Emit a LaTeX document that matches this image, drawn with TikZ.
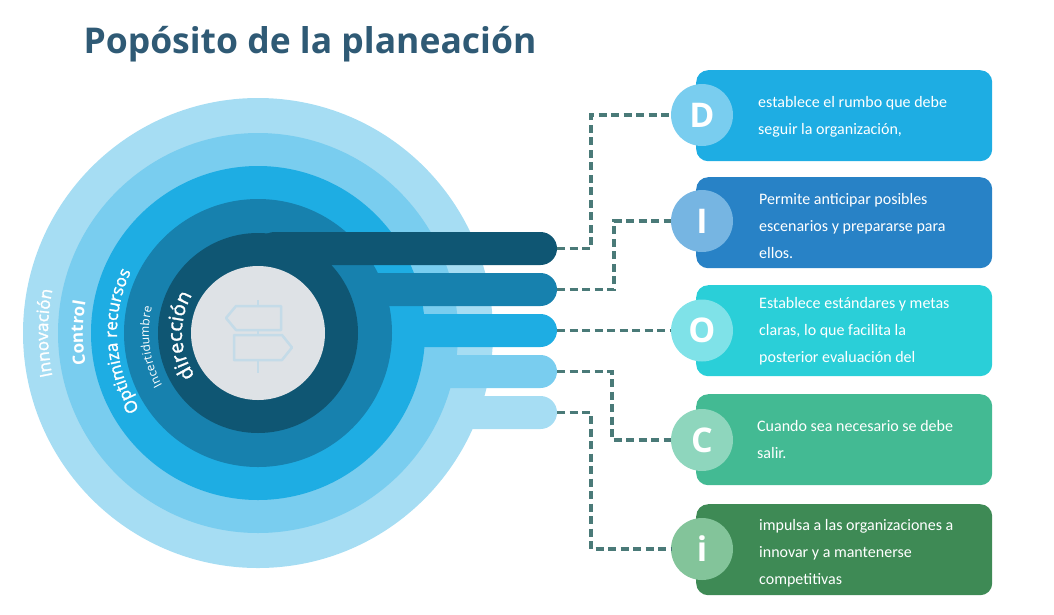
\documentclass[tikz,border=0pt]{standalone}
\usepackage{fontspec}
\setmainfont{Carlito}
\newfontfamily\osans{Open Sans}
\newfontfamily\osemi{Open Sans}[FakeBold=1.5]
\usetikzlibrary{decorations.text,calc}
\definecolor{rA}{HTML}{A6DDF3}
\definecolor{rB}{HTML}{79CDEF}
\definecolor{rC}{HTML}{1EADE3}
\definecolor{rD}{HTML}{1781AE}
\definecolor{rE}{HTML}{0F5673}
\definecolor{gcirc}{HTML}{DEE2E6}
\definecolor{icon}{HTML}{C4DBE8}
\definecolor{dashc}{HTML}{4A7A78}
\definecolor{titc}{HTML}{2F5A75}
\definecolor{bD}{HTML}{1EADE3}\definecolor{cD}{HTML}{79CDEF}
\definecolor{bI}{HTML}{2882C6}\definecolor{cI}{HTML}{76B5E2}
\definecolor{bO}{HTML}{2ACFD8}\definecolor{cO}{HTML}{7FE2E8}
\definecolor{bC}{HTML}{43BA93}\definecolor{cC}{HTML}{8ED6BD}
\definecolor{bi}{HTML}{3E8A55}\definecolor{ci}{HTML}{83C49A}
\begin{document}
\begin{tikzpicture}[x=1pt,y=1pt,
  conn/.style={draw=dashc,line width=3.4pt,dash pattern=on 8pt off 4.5pt},
  card/.style={rounded corners=12pt,minimum width=296pt,minimum height=91pt,inner sep=0pt},
  letter/.style={circle,minimum size=62pt,inner sep=0pt,text=white,font=\osans\bfseries\fontsize{34}{34}\selectfont},
  txt/.style={anchor=north west,align=left,text=white,font=\fontsize{16}{27}\selectfont,inner sep=0pt},
  curv/.style={decorate,decoration={text along path,text align=center,text color=white}}]
\useasboundingbox (0,0) rectangle (1054,-614);
\coordinate (c) at (258,-333);
% title
\node[anchor=west,text=titc,font=\osans\bfseries\fontsize{35.5}{35.5}\selectfont] (title) at (80,-44) {Popósito de la planeación};
% rings + bars
\foreach \r/\col/\yt in {235/rA/396,200/rB/355,167/rC/314,134/rD/273,100/rE/232}{
  \fill[\col] (c) circle (\r);
  \fill[\col,rounded corners=16.5pt] (258,-\yt) rectangle (557,-\yt-33);
}
\fill[gcirc] (c) circle (67);
% icon
\begin{scope}[draw=icon,line width=2.5pt,line join=round]
\draw (258,-300) -- (258,-306) (258,-330)--(258,-335) (258,-360)--(258,-373);
\draw (281,-306) -- (236,-306) -- (226,-318) -- (236,-330) -- (281,-330) -- cycle;
\draw (234,-335) -- (282,-335) -- (292,-347.5) -- (282,-360) -- (234,-360) -- cycle;
\end{scope}
% curved labels
\path[curv,decoration={text={|\osemi\fontsize{17}{17}\selectfont|Innovación}}] ($(c)+(215:210)$) arc (215:145:210);
\path[curv,decoration={text={|\osans\bfseries\fontsize{17}{17}\selectfont|Control}}] ($(c)+(215:175)$) arc (215:145:175);
\path[curv,decoration={text={|\osemi\fontsize{17}{17}\selectfont|Optimiza recursos}}] ($(c)+(245:141)$) arc (245:122:141);
\path[curv,decoration={text={|\osans\fontsize{12}{12}\selectfont|Incertidumbre}}] ($(c)+(235:109)$) arc (235:140:109);
\path[curv,decoration={text={|\osemi\fontsize{20}{20}\selectfont|dirección}}] ($(c)+(255:76)$) arc (255:109:76);
% bar end anchors
\coordinate (e1) at (557,-248.5);
\coordinate (e2) at (557,-289.5);
\coordinate (e3) at (557,-330.5);
\coordinate (e4) at (557,-371.5);
\coordinate (e5) at (557,-412.5);
% cards
\node[card,fill=bD,anchor=north west] (kD) at (696,-70) {};
\node[card,fill=bI,anchor=north west] (kI) at (696,-177) {};
\node[card,fill=bO,anchor=north west] (kO) at (696,-285) {};
\node[card,fill=bC,anchor=north west] (kC) at (696,-394) {};
\node[card,fill=bi,anchor=north west] (ki) at (696,-504) {};
\node[letter,fill=cD] (lD) at (702,-115) {D};
\node[letter,fill=cI] (lI) at (702,-221) {I};
\node[letter,fill=cO] (lO) at (702,-330.5) {O};
\node[letter,fill=cC] (lC) at (702,-440) {C};
\node[letter,fill=ci] (li) at (702,-549) {i};
\node[txt] (tD) at (758,-96) {establece el rumbo que debe\\seguir la organización,};
\node[txt] (tI) at (759,-193) {Permite anticipar posibles\\escenarios y prepararse para\\ellos.};
\node[txt] (tO) at (759,-297) {Establece estándares y metas\\claras, lo que facilita la\\posterior evaluación del};
\node[txt] (tC) at (757,-420) {Cuando sea necesario se debe\\salir.};
\node[txt] (ti) at (759,-519) {impulsa a las organizaciones a\\innovar y a mantenerse\\competitivas};
% connectors
\draw[conn] (e1) -- (591,-248.5) |- (lD.west);
\draw[conn] (e2) -- (614,-289.5) |- (lI.west);
\draw[conn] (e3) -- (lO.west);
\draw[conn] (e4) -- (612,-371.5) |- (lC.west);
\draw[conn] (e5) -- (591,-412.5) |- (li.west);
\end{tikzpicture}
\end{document}
